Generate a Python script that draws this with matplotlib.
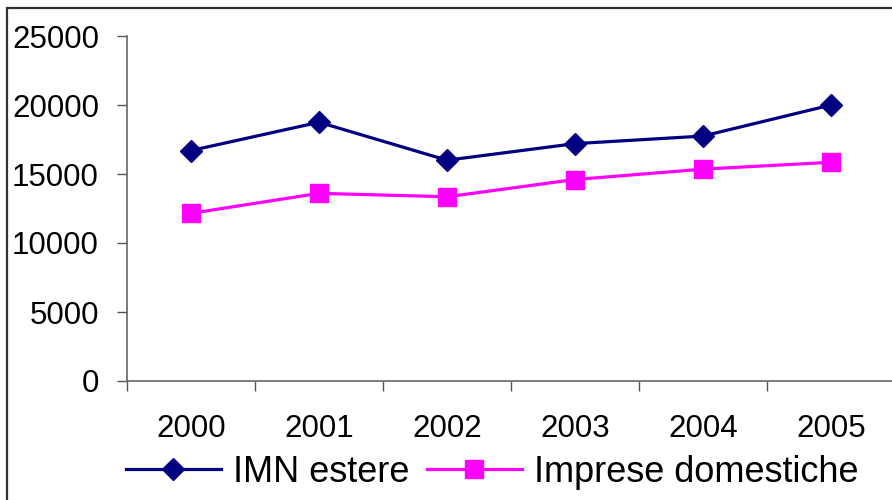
import matplotlib
matplotlib.use("Agg")
import matplotlib.pyplot as plt
from matplotlib.patches import Rectangle
from matplotlib.ticker import FixedLocator, NullFormatter

years = ["2000", "2001", "2002", "2003", "2004", "2005"]
imn_estere = [16700, 18750, 16000, 17200, 17750, 20000]
imprese_domestiche = [12150, 13600, 13350, 14600, 15350, 15850]
y_ticks = [0, 5000, 10000, 15000, 20000, 25000]

plt.rcParams['font.family'] = ['Liberation Sans', 'DejaVu Sans']

W, H = 892, 500
fig = plt.figure(figsize=(W / 100, H / 100), dpi=100)
ax = fig.add_axes([127 / W, 1 - 381 / H, 768 / W, 345 / H])

x = list(range(len(years)))
l1, = ax.plot(x, imn_estere, color='#000080', lw=2.3, marker='D', markersize=11.5,
              markerfacecolor='#000080', markeredgecolor='#000080', markeredgewidth=1,
              label='IMN estere')
l2, = ax.plot(x, imprese_domestiche, color='#FF00FF', lw=2.3, marker='s', markersize=13.5,
              markerfacecolor='#FF00FF', markeredgecolor='#FF00FF', markeredgewidth=1,
              label='Imprese domestiche')

ax.set_xlim(-0.5, len(years) - 0.5)
ax.set_ylim(0, 25000)
ax.set_yticks(y_ticks)
ax.set_yticklabels([str(v) for v in y_ticks])

# category boundaries as major ticks, labels at minor ticks
ax.xaxis.set_major_locator(FixedLocator([i - 0.5 for i in range(len(years) + 1)]))
ax.xaxis.set_major_formatter(NullFormatter())
ax.xaxis.set_minor_locator(FixedLocator(x))
ax.set_xticklabels(years, minor=True)

ax.tick_params(axis='x', which='major', direction='out', length=7.2, width=1, color='#555555')
ax.tick_params(axis='x', which='minor', length=0, pad=24, labelsize=22.5)
ax.tick_params(axis='y', direction='out', length=7.2, width=1, color='#555555',
               pad=13, labelsize=22.5)

for s in ['top', 'right']:
    ax.spines[s].set_visible(False)
for s in ['left', 'bottom']:
    ax.spines[s].set_color('#666666')
    ax.spines[s].set_linewidth(1.2)

leg = fig.legend(handles=[l1, l2], loc='center', bbox_to_anchor=(492 / W, 1 - 472 / H),
                 ncol=2, frameon=False, fontsize=26, handlelength=2.63,
                 handletextpad=0.33, columnspacing=0.5, borderpad=0, borderaxespad=0)

fig.add_artist(Rectangle((7 / W, -0.1), 1.2, (1 - 8 / H) + 0.1, transform=fig.transFigure,
                         fill=False, edgecolor='#333333', lw=1.6))

fig.savefig('out.png', dpi=100)
